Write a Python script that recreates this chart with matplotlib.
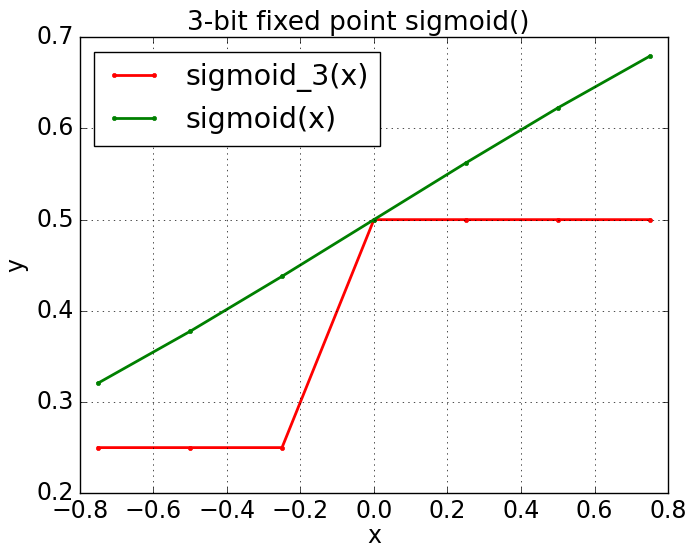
import matplotlib
matplotlib.use("Agg")
import matplotlib.pyplot as plt

x_vals = [-0.75, -0.5, -0.25, 0.0, 0.25, 0.5, 0.75]
sigmoid3_vals = [0.25, 0.25, 0.25, 0.5, 0.5, 0.5, 0.5]
sigmoid_vals = [0.3208, 0.3775, 0.4378, 0.5, 0.5622, 0.6225, 0.6792]

plt.style.use('classic')
fig = plt.figure(figsize=(6.88, 5.48), dpi=100, facecolor='white')
ax = fig.add_axes([0.116, 0.100, 0.855, 0.832])
ax.plot(x_vals, sigmoid3_vals, color='red', marker='.', markersize=6, linewidth=2, label='sigmoid_3(x)')
ax.plot(x_vals, sigmoid_vals, color='green', marker='.', markersize=6, linewidth=2, label='sigmoid(x)')
ax.set_xlim(-0.8, 0.8)
ax.set_ylim(0.2, 0.7)
ax.grid(True)
ax.tick_params(labelsize=17)
ax.set_xlabel('x', fontsize=17, labelpad=1)
ax.set_ylabel('y', fontsize=17, labelpad=6)
ax.set_title('3-bit fixed point sigmoid()', fontsize=19, x=0.473)
ax.legend(loc='upper left', fontsize=20.5, numpoints=2)
fig.savefig('out.png', dpi=100, facecolor='white')
